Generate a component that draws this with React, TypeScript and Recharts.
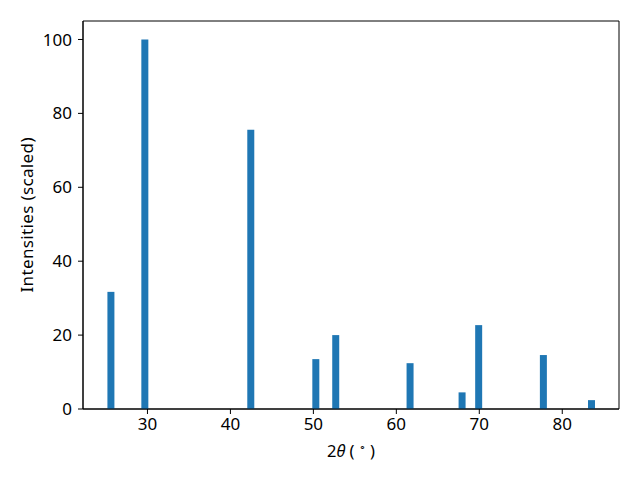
import React from "react";
import { ComposedChart, Bar, XAxis, YAxis, ReferenceArea } from "recharts";

// peak positions (2θ, degrees) and scaled intensities
const angles = [25.57, 29.66, 42.43, 50.27, 52.67, 61.63, 67.9, 69.9, 77.7, 83.5];
const intensities = [31.7, 100, 75.6, 13.5, 20.0, 12.4, 4.5, 22.7, 14.6, 2.4];
const xTicks = [30, 40, 50, 60, 70, 80];
const yTicks = [0, 20, 40, 60, 80, 100];
const xDomain = [22.23, 86.84];
const yDomain = [0, 105];

const data = angles.map((a, i) => ({ angle: a, intensity: intensities[i] }));

const FONT = "'Noto Sans', sans-serif";
const FS = 17;
const tickStyle = { fill: "#000", fontSize: FS, fontFamily: FONT };

function XLabel(props: any) {
  const vb = props.viewBox || { x: 0, y: 0, width: 0 };
  const cx = vb.x + vb.width / 2;
  return (
    <text x={cx} y={vb.y + 48} textAnchor="middle" fontFamily={FONT} fontSize={16.5} fill="#000">
      <tspan>2</tspan>
      <tspan fontStyle="italic">θ</tspan>
      <tspan> ( </tspan>
      <tspan fontSize={11} dy={-6}>∘</tspan>
      <tspan dy={6}> )</tspan>
    </text>
  );
}

function YLabel(props: any) {
  const vb = props.viewBox || { x: 0, y: 0, height: 0 };
  const cy = vb.y + vb.height / 2;
  const x = 33;
  return (
    <text
      x={x}
      y={cy}
      transform={`rotate(-90, ${x}, ${cy})`}
      textAnchor="middle"
      fontFamily={FONT}
      fontSize={FS}
      textLength={155}
      lengthAdjust="spacing"
      fill="#000"
    >
      Intensities (scaled)
    </text>
  );
}

export default function App() {
  return (
    <div style={{ position: "absolute", left: 0, top: 0, width: 640, height: 480, background: "#fff" }}>
      <ComposedChart width={640} height={480} data={data} margin={{ top: 21, right: 21, bottom: 0, left: 0 }}>
        <XAxis
          dataKey="angle"
          type="number"
          domain={xDomain}
          ticks={xTicks}
          height={71}
          tickSize={5}
          tickMargin={4}
          tick={tickStyle}
          axisLine={{ stroke: "#000" }}
          tickLine={{ stroke: "#000" }}
          label={<XLabel />}
        />
        <YAxis
          type="number"
          domain={yDomain}
          ticks={yTicks}
          width={83}
          tickSize={5}
          tickMargin={6}
          tick={tickStyle}
          axisLine={{ stroke: "#000" }}
          tickLine={{ stroke: "#000" }}
          label={<YLabel />}
        />
        <Bar dataKey="intensity" fill="#1f77b4" barSize={7} isAnimationActive={false} />
        <ReferenceArea
          x1={xDomain[0]}
          x2={xDomain[1]}
          y1={yDomain[0]}
          y2={yDomain[1]}
          fill="none"
          fillOpacity={0}
          stroke="#000"
          strokeOpacity={1}
        />
      </ComposedChart>
    </div>
  );
}
